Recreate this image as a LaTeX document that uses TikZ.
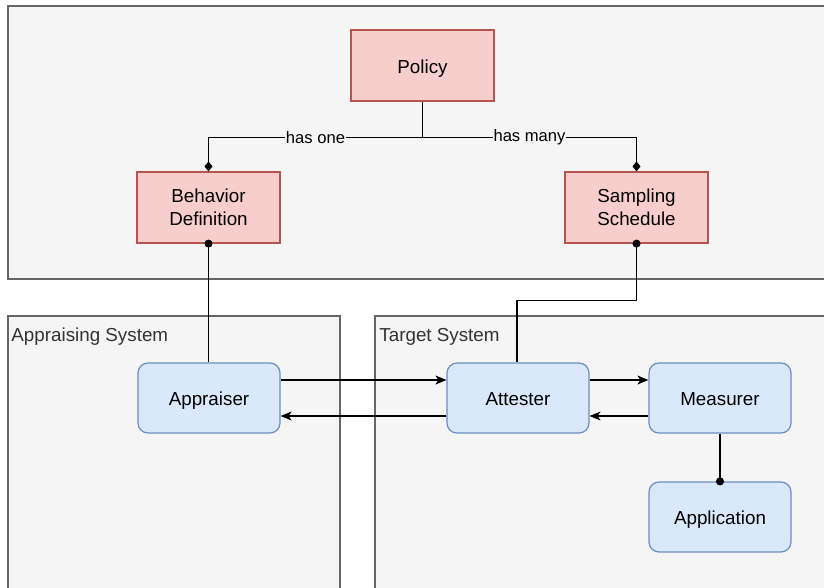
\documentclass[tikz,border=0pt]{standalone}
\usepackage{fontspec}
\setmainfont{Liberation Sans}
\usetikzlibrary{arrows.meta,positioning}

\definecolor{redfill}{HTML}{F8CECC}
\definecolor{redline}{HTML}{B85450}
\definecolor{bluefill}{HTML}{DAE8FC}
\definecolor{blueline}{HTML}{6C8EBF}
\definecolor{sysfill}{HTML}{F5F5F5}
\definecolor{sysline}{HTML}{666666}
\definecolor{systext}{HTML}{333333}

\begin{document}
\begin{tikzpicture}[x=1pt,y=-1pt,line width=1.2pt,
font=\fontsize{18.8}{22.5}\selectfont,node distance=202pt]
\tikzstyle{system}=[fill=sysfill,draw=sysline]
\tikzstyle{policybox}=[draw=redline,fill=redfill,minimum width=143pt,minimum height=71pt,align=center]
\tikzstyle{oneline}=[text height=19.5pt,text depth=4pt]
\tikzstyle{component}=[draw=blueline,fill=bluefill,rounded corners=10pt,minimum width=142pt,minimum height=70pt,oneline]
\tikzstyle{tag}=[fill=sysfill,inner sep=1pt,font=\fontsize{16.6}{20}\selectfont]
\tikzstyle{hasa}=[-{Diamond[length=10pt,width=8pt]}]
\tikzstyle{uses}=[{Circle[length=8pt]}-,shorten <=-4pt]
\tikzstyle{msg}=[-{Stealth[length=11pt,width=9pt,inset=3pt]}]

\useasboundingbox (0,0) rectangle (824,587);
\fill[white] (0,0) rectangle (824,587);

% containers, cut off at the page edge
\begin{scope}
\clip (0,0) rectangle (824,587);
\draw[system] (8,6) rectangle (840,279);
\draw[system] (8,316) rectangle (340,600);
\draw[system] (375,316) rectangle (840,600);
\end{scope}
\node[anchor=base west,text=systext] (apptitle) at (7.5,341) {Appraising System};
\node[anchor=base west,text=systext] (tgttitle) at (375.5,341) {Target System};

% policy side
\node[policybox,oneline] (policy) at (422.5,65.5) {Policy};
\node[policybox] (behavior) at (208.5,207.5) {Behavior\\Definition};
\node[policybox] (sampling) at (636.5,207.5) {Sampling\\Schedule};

% systems
\node[component] (appraiser) at (209,398) {Appraiser};
\node[component] (attester)  at (518,398) {Attester};
\node[component] (measurer)  [right of=attester] {Measurer};
\node[component] (app)       at (720,517) {Application};

\draw[hasa] (policy.south) -- ++(0,36) -| node[pos=0.25,tag] {has one} (behavior.north);
\draw[hasa] (policy.south) -- ++(0,36) -| node[pos=0.25,tag] {has many} (sampling.north);

\draw[uses] (behavior.south) -- (behavior.south |- appraiser.north);
\draw[uses] (sampling.south) -- ++(0,57) -| ([xshift=-1pt]attester.north);
\draw[-{Circle[length=8pt]},shorten >=-4pt] (measurer.south) -- (app.north);

\draw[msg] ([yshift=18pt]appraiser.east) -- ([yshift=18pt]attester.west);
\draw[msg] ([yshift=-18pt]attester.west) -- ([yshift=-18pt]appraiser.east);
\draw[msg] ([yshift=18pt]attester.east) -- ([yshift=18pt]measurer.west);
\draw[msg] ([yshift=-18pt]measurer.west) -- ([yshift=-18pt]attester.east);
\end{tikzpicture}
\end{document}
